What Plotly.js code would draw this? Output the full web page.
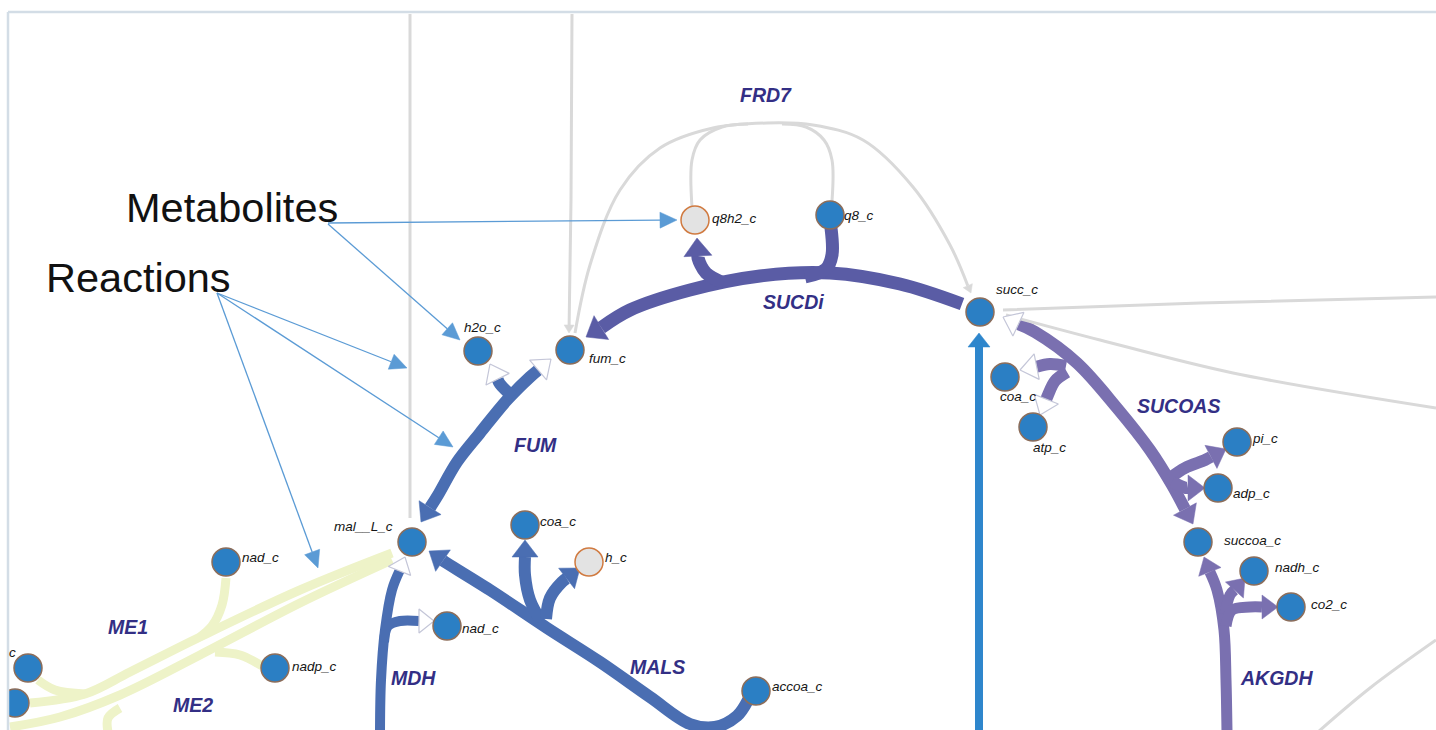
<!DOCTYPE html>
<html><head><meta charset="utf-8">
<script src="https://cdn.plot.ly/plotly-3.0.1.min.js"></script>
<style>html,body{margin:0;padding:0;background:#fff;overflow:hidden}#chart{width:1436px;height:730px}</style>
</head><body><div id="chart"></div>
<script>
// ---------- metabolites (nodes) ----------
const metNames    = ['q8h2_c','q8_c','succ_c','h2o_c','fum_c','mal__L_c','coa_c','h_c','nad_c','accoa_c','nad_c','nadp_c','c','','coa_c','atp_c','pi_c','adp_c','succoa_c','nadh_c','co2_c'];
const metX        = [695,830,980,478,570,412,525,589,447,756,226,275,28,15,1005,1033,1237,1218,1198,1254,1291];
const metY        = [220,215,312,351,350,542,525,562,626,691,562,668,668,703,377,427,442,488,542,571,607];
const metMeasured = [false,true,true,true,true,true,true,false,true,true,true,true,true,true,true,true,true,true,true,true,true];
const labelX      = [711,843,995,463,588,333,539,604,461,771,241,291,17,0,999,1032,1251,1232,1223,1274,1310];
const labelY      = [218,215,289,327,358,526,521,557,628,686,557,666,652,0,396,447,438,493,540,567,604];
const labelAnchor = ['left','left','left','left','left','left','left','left','left','left','left','left','right','left','left','left','left','left','left','left','left'];

// ---------- reactions (labels) ----------
const rxnNames  = ['FRD7','SUCDi','FUM','MDH','MALS','ME1','ME2','SUCOAS','AKGDH'];
const rxnLabelX = [766,793,535,413,657,128,193,1178,1276];
const rxnLabelY = [95,302,445,678,667,627,705,406,678];

// ---------- reaction segments (control points, heads: f = filled, h = hollow) ----------
const sucdiSegs = [
  {pts:[[962,304],[900,284],[830,273],[760,276],[690,290],[630,310],[586,337]], end:'f'},
  {pts:[[724,283],[706,273],[698,258],[697,238]], end:'f'},
  {pts:[[831,228],[832,255],[826,269],[805,277]]}
];
const fumSegs = [
  {pts:[[421,522],[438,495],[457,462],[480,433],[507,400],[530,377],[551,359]], start:'f', end:'h'},
  {pts:[[513,397],[500,384],[490,364]], end:'h'}
];
const mdhSegs = [
  {pts:[[380,732],[381,680],[385,630],[392,590],[405,557]], end:'h'},
  {pts:[[384,642],[388,626],[400,621],[434,621]], end:'h'}
];
const malsSegs = [
  {pts:[[748,700],[737,716],[715,727],[690,724],[650,697],[600,662],[547,628],[490,590],[445,562],[429,551]], end:'f'},
  {pts:[[541,621],[530,600],[525,575],[525,540]], end:'f'},
  {pts:[[546,619],[550,598],[562,582],[580,568]], end:'f'}
];
const me1Segs = [
  {pts:[[392,553],[300,590],[200,637],[130,672],[85,694],[30,703]]},
  {pts:[[38,680],[55,690],[85,694]]},
  {pts:[[226,578],[222,605],[212,626],[200,637]]}
];
const me2Segs = [
  {pts:[[392,560],[300,603],[200,655],[120,695],[60,717],[10,727]]},
  {pts:[[262,666],[240,655],[215,652]]},
  {pts:[[108,732],[108,718],[120,708]]}
];
const sucoasSegs = [
  {pts:[[1003,317],[1035,332],[1077,363],[1117,408],[1150,450],[1172,485],[1193,524]], start:'h', end:'f'},
  {pts:[[1066,366],[1050,364],[1020,370]], end:'h'},
  {pts:[[1067,372],[1055,381],[1048,395],[1040,415]], end:'h'},
  {pts:[[1170,478],[1185,468],[1205,460],[1226,449]], end:'f'},
  {pts:[[1172,482],[1186,488],[1205,488]], end:'f'}
];
const akgdhSegs = [
  {pts:[[1227,732],[1226,680],[1224,630],[1217,590],[1204,557]], end:'f'},
  {pts:[[1225,614],[1230,595],[1245,578]], end:'f'},
  {pts:[[1226,626],[1232,610],[1250,607],[1278,607]], end:'f'}
];
const blueSegs = [
  {pts:[[979,732],[979,333]], end:'f'}
];
const greySegs = [
  {pts:[[410,14],[410,518]]},
  {pts:[[572,14],[571,200],[569,333]], end:'f'},
  {pts:[[575,333],[590,265],[620,190],[660,148],[713,128],[767,123],[813,125],[863,140],[913,187],[950,245],[971,293]], end:'f'},
  {pts:[[692,207],[692,160],[700,140],[722,127],[748,124]]},
  {pts:[[832,201],[832,160],[824,140],[806,127],[782,124]]},
  {pts:[[1003,310],[1200,303],[1436,297]]},
  {pts:[[1006,315],[1100,340],[1233,373],[1436,408]]},
  {pts:[[1318,732],[1370,688],[1436,640]]}
];

// ---------- callouts ----------
const calloutText = ['Metabolites','Reactions'];
const calloutX    = [125,45];
const calloutY    = [207,277];
const calloutArrows = [
  {pts:[[328,223],[677,220]], end:'f'},
  {pts:[[328,224],[460,340]], end:'f'},
  {pts:[[217,293],[407,368]], end:'f'},
  {pts:[[217,293],[453,447]], end:'f'},
  {pts:[[217,293],[318,568]], end:'f'}
];

// ---------- styles ----------
const styles = [
  {segs:sucdiSegs,  color:'#5a5ca5', width:13, len:18, hw:14},
  {segs:fumSegs,    color:'#4a6eb2', width:12, len:17, hw:13},
  {segs:mdhSegs,    color:'#4a6eb2', width:10, len:15, hw:12},
  {segs:malsSegs,   color:'#4a6eb2', width:12, len:17, hw:13},
  {segs:me1Segs,    color:'#eef3c8', width:9,  len:10, hw:8},
  {segs:me2Segs,    color:'#eef3c8', width:9,  len:10, hw:8},
  {segs:sucoasSegs, color:'#7a70b0', width:12, len:17, hw:13},
  {segs:akgdhSegs,  color:'#7a70b0', width:11, len:16, hw:12},
  {segs:blueSegs,   color:'#2e86cc', width:8,  len:14, hw:11},
  {segs:greySegs,   color:'#d9d9d9', width:3,  len:8,  hw:5},
  {segs:calloutArrows, color:'#5b9bd5', width:1.3, len:17, hw:8}
];

function head(tip, from, len, hw){
  const dx = tip[0]-from[0], dy = tip[1]-from[1];
  const l = Math.hypot(dx,dy)||1, ux = dx/l, uy = dy/l;
  const bx = tip[0]-ux*len, by = tip[1]-uy*len, px = -uy, py = ux;
  return {poly:[[tip[0],tip[1]],[bx+px*hw,by+py*hw],[bx-px*hw,by-py*hw],[tip[0],tip[1]]], base:[bx,by]};
}

const lineTraces = [], headTraces = [];
styles.forEach(st => {
  st.segs.forEach(sg => {
    const pts = sg.pts.map(p => p.slice());
    const heads = [];
    if (sg.end) {
      const n = pts.length, h = head(pts[n-1], pts[n-2], st.len, st.hw);
      pts[n-1] = h.base; heads.push({poly:h.poly, type:sg.end});
    }
    if (sg.start) {
      const h = head(pts[0], pts[1], st.len, st.hw);
      pts[0] = h.base; heads.push({poly:h.poly, type:sg.start});
    }
    lineTraces.push({
      type:'scatter', mode:'lines', hoverinfo:'skip',
      x: pts.map(p=>p[0]), y: pts.map(p=>p[1]),
      line:{color:st.color, width:st.width, shape: pts.length>2?'spline':'linear', smoothing:1}
    });
    heads.forEach(h => {
      const hollow = h.type === 'h';
      headTraces.push({
        type:'scatter', mode:'lines', hoverinfo:'skip', fill:'toself',
        x: h.poly.map(p=>p[0]), y: h.poly.map(p=>p[1]),
        fillcolor: hollow ? '#ffffff' : st.color,
        line:{color: hollow ? '#c4c6d8' : st.color, width: hollow ? 1.2 : 0.5}
      });
    });
  });
});

const nodeTrace = {
  type:'scatter', mode:'markers', hoverinfo:'text', text: metNames,
  x: metX, y: metY,
  marker:{size:28, color: metMeasured.map(m => m ? '#2b7fc4' : '#e3e3e3'),
          line:{color: metMeasured.map(m => m ? '#8c6d5a' : '#d07a40'), width:1.5}}
};

const annotations = [];
metNames.forEach((n,i) => {
  if (!n) return;
  annotations.push({x:labelX[i], y:labelY[i], xref:'x', yref:'y', text:n, showarrow:false,
    xanchor:labelAnchor[i], yanchor:'middle', borderpad:0,
    font:{family:'Liberation Sans, Arial, sans-serif', size:13.5, color:'#151515', style:'italic'}});
});
rxnNames.forEach((n,i) => {
  annotations.push({x:rxnLabelX[i], y:rxnLabelY[i], xref:'x', yref:'y', text:n, showarrow:false,
    xanchor:'center', yanchor:'middle',
    font:{family:'Liberation Sans, Arial, sans-serif', size:19.5, color:'#332f85', style:'italic', weight:'bold'}});
});
calloutText.forEach((t,i) => {
  annotations.push({x:calloutX[i], y:calloutY[i], xref:'x', yref:'y', text:t, showarrow:false,
    xanchor:'left', yanchor:'middle', borderpad:0,
    font:{family:'Liberation Sans, Arial, sans-serif', size:41.5, color:'#111111'}});
});

const layout = {
  width:1436, height:730, margin:{l:0,r:0,t:0,b:0,pad:0},
  paper_bgcolor:'#ffffff', plot_bgcolor:'#ffffff', showlegend:false,
  xaxis:{range:[0,1436], visible:false, fixedrange:true},
  yaxis:{range:[730,0], visible:false, fixedrange:true},
  annotations: annotations,
  shapes:[
    {type:'rect', xref:'x', yref:'y', x0:0, x1:8, y0:0, y1:730, fillcolor:'#ffffff', line:{width:0}, layer:'above'},
    {type:'rect', xref:'x', yref:'y', x0:0, x1:1436, y0:0, y1:12, fillcolor:'#ffffff', line:{width:0}, layer:'above'},
    {type:'line', xref:'x', yref:'y', x0:8, x1:1436, y0:12, y1:12, line:{color:'#d3dde6', width:2.5}, layer:'above'},
    {type:'line', xref:'x', yref:'y', x0:8, x1:8, y0:12, y1:730, line:{color:'#d3dde6', width:2.5}, layer:'above'}
  ]
};

Plotly.newPlot('chart', lineTraces.concat(headTraces, [nodeTrace]), layout, {displayModeBar:false, staticPlot:true});
</script></body></html>
